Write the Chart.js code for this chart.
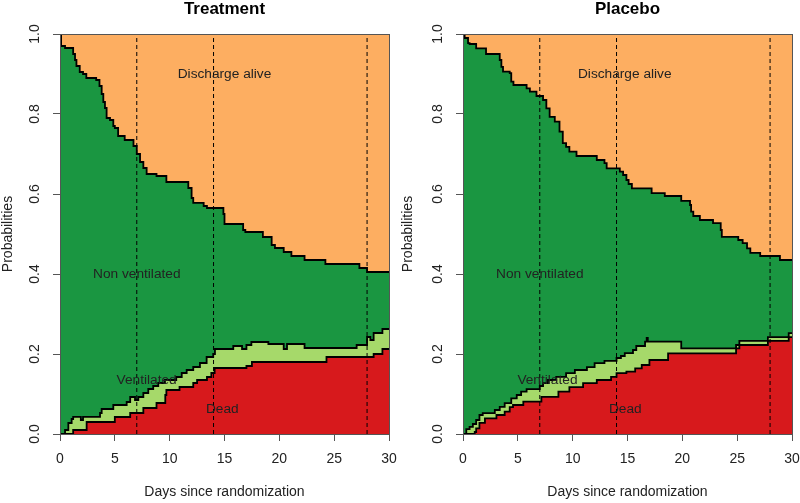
<!DOCTYPE html>
<html>
<head>
<meta charset="utf-8">
<script src="https://cdn.jsdelivr.net/npm/chart.js@4"></script>
<style>
    body { margin: 0; background: #fff; }
    .wrap { display: flex; width: 800px; height: 503px; }
    canvas { display: block; }
</style>
</head>
<body>
<div class="wrap">
    <canvas id="treatmentChart" width="400" height="503"></canvas>
    <canvas id="placeboChart" width="400" height="503"></canvas>
</div>
<script>
// Stacked state probabilities: [day, cumulative probability]
// Treatment arm
const trtNonVentEdge = [
    [0, 1.0], [0.1, 0.97], [0.46, 0.965], [1.2, 0.95], [1.37, 0.935], [1.5, 0.92], [1.8, 0.905],
    [2.1, 0.9], [2.4, 0.89], [3.3, 0.885], [3.6, 0.87], [3.8, 0.85], [3.95, 0.83], [4.1, 0.815],
    [4.25, 0.79], [4.56, 0.785], [4.86, 0.77], [5.0, 0.765], [5.3, 0.745], [5.9, 0.735], [6.7, 0.72],
    [7.0, 0.7], [7.3, 0.68], [7.6, 0.665], [7.9, 0.65], [8.8, 0.645], [9.7, 0.63], [11.7, 0.615],
    [12.0, 0.59], [12.15, 0.578], [13.1, 0.57], [13.4, 0.565], [14.9, 0.55], [15.0, 0.525],
    [16.7, 0.51], [16.9, 0.505], [18.5, 0.4925], [19.3, 0.4725], [19.6, 0.465], [20.4, 0.455],
    [21.1, 0.445], [22.3, 0.435], [24.2, 0.425], [27.3, 0.415], [28.0, 0.405], [30, 0.405]
];
const trtVentEdge = [
    [0, 0], [0.46, 0.01], [0.76, 0.0275], [1.06, 0.0375], [1.2, 0.043], [1.9, 0.035], [2.1, 0.043],
    [3.65, 0.0525], [3.8, 0.0625], [4.86, 0.0725], [6.08, 0.08], [6.4, 0.0925], [6.84, 0.085],
    [7.14, 0.0925], [7.6, 0.1025], [8.05, 0.1125], [8.5, 0.12], [8.96, 0.1275], [9.57, 0.135],
    [10.6, 0.1425], [11.1, 0.1525], [11.55, 0.16], [12.15, 0.1675], [12.76, 0.1775], [13.37, 0.1925],
    [13.97, 0.2], [14.13, 0.2125], [15.8, 0.22], [16.6, 0.2125], [17.0, 0.2225], [17.45, 0.23],
    [19.0, 0.225], [20.4, 0.2125], [20.7, 0.225], [22.3, 0.215], [27.05, 0.2225], [28.0, 0.2425],
    [28.3, 0.235], [28.6, 0.2525], [29.4, 0.2625], [30, 0.2625]
];
const trtDeadEdge = [
    [0, 0], [1.2, 0.01], [2.43, 0.03], [5.0, 0.0425], [6.4, 0.0525], [7.6, 0.065], [8.8, 0.0775],
    [9.6, 0.0975], [9.7, 0.11], [10.9, 0.1175], [12.15, 0.1275], [12.5, 0.135], [13.4, 0.1425],
    [13.8, 0.1525], [14.1, 0.165], [17.0, 0.17], [17.5, 0.18], [24.3, 0.1925], [28.6, 0.2],
    [29.4, 0.2125], [30, 0.2125]
];

// Placebo arm
const pboNonVentEdge = [
    [0, 1.0], [0.15, 0.99], [0.46, 0.977], [0.6, 0.975], [1.2, 0.964], [2.1, 0.95], [3.35, 0.935],
    [3.5, 0.918], [3.65, 0.906], [4.26, 0.902], [4.4, 0.881], [4.6, 0.8725], [5.8, 0.864],
    [6.1, 0.856], [6.7, 0.845], [7.3, 0.835], [7.6, 0.814], [7.9, 0.793], [8.37, 0.781],
    [8.8, 0.756], [9.1, 0.727], [9.4, 0.718], [9.7, 0.706], [10.35, 0.695], [12.2, 0.685],
    [12.9, 0.677], [13.1, 0.664], [14.3, 0.656], [14.6, 0.6475], [14.9, 0.635], [15.1, 0.625],
    [15.4, 0.614], [17.2, 0.602], [18.4, 0.595], [19.9, 0.583], [20.7, 0.5725], [20.8, 0.556],
    [21.0, 0.545], [21.6, 0.535], [22.8, 0.527], [23.5, 0.51], [23.6, 0.493], [25.1, 0.485],
    [25.5, 0.477], [25.9, 0.464], [26.2, 0.453], [27.1, 0.445], [28.9, 0.435], [30, 0.435]
];
const pboVentEdge = [
    [0, 0], [0.3, 0.012], [0.6, 0.018], [0.9, 0.025], [1.2, 0.035], [1.5, 0.0475], [1.8, 0.052],
    [2.9, 0.06], [3.35, 0.068], [3.8, 0.077], [4.4, 0.089], [4.9, 0.0975], [5.3, 0.106],
    [5.8, 0.112], [7.0, 0.12], [7.3, 0.127], [7.75, 0.135], [8.5, 0.143], [9.4, 0.152],
    [10.2, 0.16], [11.3, 0.167], [12.0, 0.177], [12.9, 0.183], [14.0, 0.19], [14.4, 0.195],
    [14.75, 0.202], [15.5, 0.21], [15.8, 0.22], [16.6, 0.231], [16.75, 0.24], [16.85, 0.231],
    [19.9, 0.214], [24.9, 0.2225], [25.2, 0.233], [27.8, 0.242], [29.7, 0.252], [30, 0.252]
];
const pboDeadEdge = [
    [0, 0], [1.07, 0.005], [1.2, 0.014], [1.5, 0.028], [2.0, 0.039], [3.05, 0.0475], [3.8, 0.056],
    [4.26, 0.067], [4.56, 0.0725], [5.5, 0.081], [7.15, 0.093], [8.7, 0.106], [9.7, 0.117],
    [10.95, 0.127], [12.2, 0.135], [13.5, 0.143], [14.0, 0.152], [14.9, 0.156], [15.7, 0.164],
    [16.3, 0.1725], [17.0, 0.185], [18.7, 0.2017], [24.9, 0.214], [25.2, 0.2225], [27.8, 0.233],
    [29.7, 0.242], [30, 0.242]
];

// Reference days marked with dashed lines
const markerDays = [7, 14, 28];
const xTicks = [0, 5, 10, 15, 20, 25, 30];
const yTicks = [0, 0.2, 0.4, 0.6, 0.8, 1.0];
const stateNames = ['Discharge alive', 'Non ventilated', 'Ventilated', 'Dead'];

const FONT = "'Liberation Sans', Arial, sans-serif";
const colors = {
    discharge: '#FDAE61',
    nonVent: '#1A9641',
    vent: '#A6D96A',
    dead: '#D7191C'
};

const toPoints = arr => arr.map(p => ({ x: p[0], y: p[1] }));

// Text labels for each state (data coordinates)
const labelSpots = {
    treatment: [[15, 0.9], [7, 0.4], [7.9, 0.135], [14.8, 0.063]],
    placebo: [[14.75, 0.9], [7, 0.4], [7.7, 0.135], [14.8, 0.063]]
};

function makeChart(canvasId, title, nonVent, vent, dead, spots, leftWidth, rightPad) {
    const stepLine = (data, fillColor) => ({
        data: toPoints(data),
        stepped: true,
        borderColor: '#000',
        borderWidth: 1.8,
        backgroundColor: fillColor,
        fill: 'origin',
        pointRadius: 0
    });

    const dashed = markerDays.map(d => ({
        data: [{ x: d, y: 0 }, { x: d, y: 1 }],
        borderColor: '#000',
        borderWidth: 1,
        borderDash: [4, 3],
        fill: false,
        pointRadius: 0
    }));

    const stateText = {
        id: 'stateText',
        afterDatasetsDraw(chart) {
            const { ctx, scales } = chart;
            ctx.save();
            ctx.font = '13.7px ' + FONT;
            ctx.fillStyle = '#222';
            ctx.textAlign = 'center';
            ctx.textBaseline = 'middle';
            stateNames.forEach((name, i) => {
                ctx.fillText(name, scales.x.getPixelForValue(spots[i][0]), scales.y.getPixelForValue(spots[i][1]));
            });
            // plot box
            const a = chart.chartArea;
            ctx.strokeStyle = '#555';
            ctx.lineWidth = 1;
            ctx.strokeRect(Math.round(a.left) + 0.5, Math.round(a.top) + 0.5, Math.round(a.right - a.left), Math.round(a.bottom - a.top));
            ctx.restore();
        }
    };

    return new Chart(document.getElementById(canvasId), {
        type: 'line',
        data: {
            datasets: [
                ...dashed,
                stepLine(dead, colors.dead),
                stepLine(vent, colors.vent),
                stepLine(nonVent, colors.nonVent),
                {
                    data: [{ x: 0, y: 1 }, { x: 30, y: 1 }],
                    borderWidth: 0,
                    borderColor: 'rgba(0,0,0,0)',
                    backgroundColor: colors.discharge,
                    fill: 'origin',
                    pointRadius: 0
                }
            ]
        },
        options: {
            responsive: false,
            animation: false,
            layout: { padding: { top: 0, right: rightPad, bottom: 0, left: 0 } },
            plugins: {
                legend: { display: false },
                tooltip: { enabled: false },
                title: {
                    display: true,
                    fullSize: false,
                    text: title,
                    color: '#000',
                    font: { family: FONT, size: 17, weight: 'bold' },
                    padding: { top: -1, bottom: 14.6 }
                }
            },
            scales: {
                x: {
                    type: 'linear',
                    min: 0,
                    max: 30,
                    afterBuildTicks: s => { s.ticks = xTicks.map(v => ({ value: v })); },
                    afterFit: s => { s.height = 69; s.paddingLeft = 0; s.paddingRight = 0; },
                    grid: { drawOnChartArea: false, tickLength: 7, color: '#555' },
                    border: { display: false },
                    ticks: { color: '#222', font: { family: FONT, size: 14 }, padding: 10, maxRotation: 0 },
                    title: {
                        display: true,
                        text: 'Days since randomization',
                        color: '#222',
                        font: { family: FONT, size: 14 },
                        padding: { top: 0, bottom: 2 }
                    }
                },
                y: {
                    min: 0,
                    max: 1,
                    afterBuildTicks: s => { s.ticks = yTicks.map(v => ({ value: v })); },
                    afterFit: s => { s.width = leftWidth; s.paddingTop = 0; s.paddingBottom = 0; },
                    grid: { drawOnChartArea: false, tickLength: 7, color: '#555' },
                    border: { display: false },
                    ticks: {
                        color: '#222',
                        font: { family: FONT, size: 14 },
                        padding: 8,
                        minRotation: 90,
                        maxRotation: 90,
                        crossAlign: 'center',
                        callback: v => v.toFixed(1)
                    },
                    title: {
                        display: true,
                        text: 'Probabilities',
                        color: '#222',
                        font: { family: FONT, size: 14 },
                        padding: { top: 0, bottom: 0 }
                    }
                }
            }
        },
        plugins: [stateText]
    });
}

makeChart('treatmentChart', 'Treatment', trtNonVentEdge, trtVentEdge, trtDeadEdge, labelSpots.treatment, 60, 11);
makeChart('placeboChart', 'Placebo', pboNonVentEdge, pboVentEdge, pboDeadEdge, labelSpots.placebo, 63, 8);
</script>
</body>
</html>
